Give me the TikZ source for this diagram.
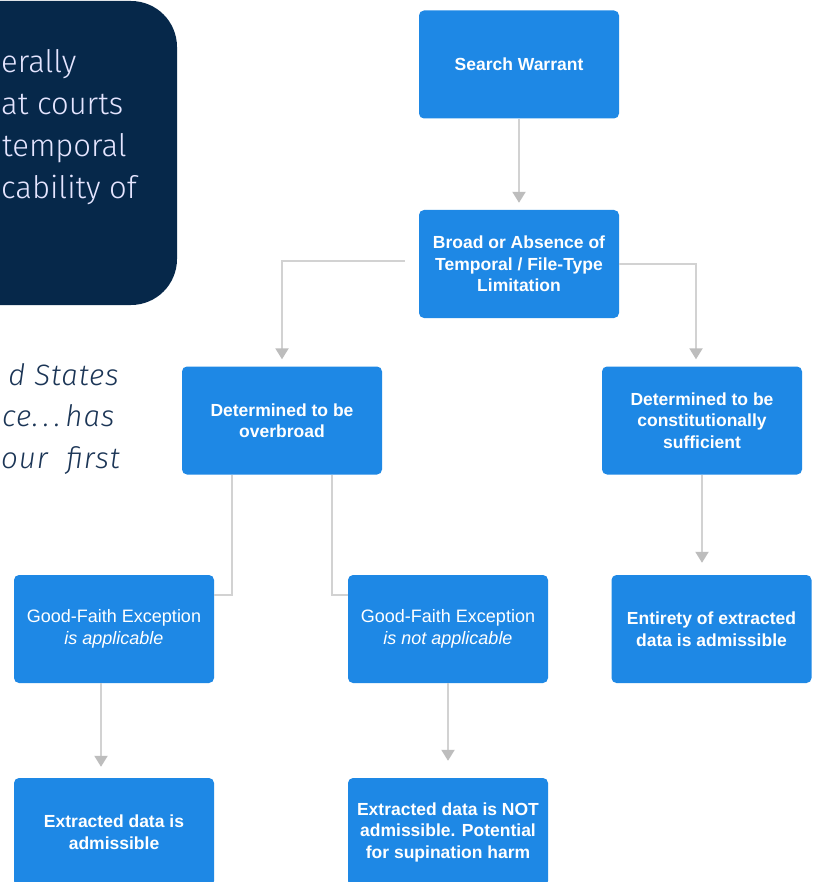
\documentclass[tikz,border=0pt]{standalone}
\usepackage{fontspec}
\usetikzlibrary{arrows.meta}
\newfontfamily\boxfont{Liberation Sans}
\newfontfamily\lightfont{Fira Sans Light}[ItalicFont={Fira Sans Light Italic}]
\newfontfamily\quotefont{Fira Sans Light Italic}[LetterSpace=3]
\definecolor{boxblue}{HTML}{1E88E5}
\definecolor{navy}{HTML}{06284A}
\definecolor{quotecol}{HTML}{1B3556}
\definecolor{linegray}{HTML}{D2D2D2}
\definecolor{tipgray}{HTML}{BDBDBD}
\tikzset{
  stepbox/.style={fill=boxblue, rounded corners=5pt, minimum width=200pt, minimum height=108pt,
    text=white, align=center, inner sep=2pt, font=\boxfont\bfseries\fontsize{17.5}{21.5}\selectfont},
  gfbox/.style={stepbox, font=\boxfont\fontsize{18}{21.5}\selectfont},
  conn/.style={draw=linegray, line width=2pt, -{Triangle[width=13pt,length=11pt,color=tipgray]}},
  plain/.style={draw=linegray, line width=2pt},
  darktext/.style={text=white!90!blue, font=\lightfont\fontsize{31}{36}\selectfont, inner sep=0pt, anchor=base west},
  quotetext/.style={text=quotecol, font=\quotefont\fontsize{29.5}{36}\selectfont, inner sep=0pt, anchor=base east}
}
\begin{document}
\begin{tikzpicture}[x=1pt,y=-1pt]
\clip (0,0) rectangle (813,882);
\fill[white] (0,0) rectangle (813,882);
% dark panel
\fill[navy, rounded corners=46pt] (-120,1) rectangle (177,305);
\node[darktext] (d1) at (1,73) {erally};
\node[darktext] (d2) at (1,115) {at courts};
\node[darktext] (d3) at (2,157) {temporal};
\node[darktext] (d4) at (1,199) {cability of};
% quote fragments
\node[quotetext] (q1) at (119,385) {d States};
\node[quotetext, anchor=base west] (q2) at (2,426) {ce.\,.\,.\,has};
\node[quotetext, anchor=base west] (q3) at (1,468) {our};
\node[quotetext] (q4) at (120,468) {first};
% boxes
\node[stepbox] (sw) at (519,64.5) {Search Warrant};
\node[stepbox] (broad) at (519,264) {Broad or Absence of\\Temporal / File-Type\\Limitation};
\node[stepbox] (over) at (282,420.5) {Determined to be\\overbroad};
\node[stepbox] (cons) at (702,420.5) {Determined to be\\constitutionally\\sufficient};
\node[stepbox] (ent) at (711.5,629) {Entirety of extracted\\data is admissible};
\node[gfbox] (gfa) at (114,629) {Good-Faith Exception\\\itshape is applicable};
\node[gfbox] (gfn) at (448,629) {Good-Faith Exception\\\itshape is not applicable};
\node[stepbox] (ea) at (114,832) {Extracted data is\\admissible};
\node[stepbox] (en) at (448,832) {Extracted data is NOT\\admissible. Potential\\for supination harm};
% connectors
\draw[conn, shorten >=7pt] (sw.south) -- (broad.north);
\draw[conn, shorten <=14pt, shorten >=7pt] ([yshift=3pt]broad.west) -| (over.north);
\draw[conn, shorten >=7pt] (broad.east) -| ([xshift=-6pt]cons.north);
\draw[plain] ([xshift=-50pt]over.south) |- ([yshift=34pt]gfa.east);
\draw[plain] ([xshift=50pt]over.south) |- ([yshift=34pt]gfn.west);
\draw[conn, shorten >=12pt] (cons.south) -- (cons.south |- ent.north);
\draw[conn, shorten >=11pt] ([xshift=-13pt]gfa.south) -- ([xshift=-13pt]ea.north);
\draw[conn, shorten >=17pt] (gfn.south) -- (en.north);
\end{tikzpicture}
\end{document}
